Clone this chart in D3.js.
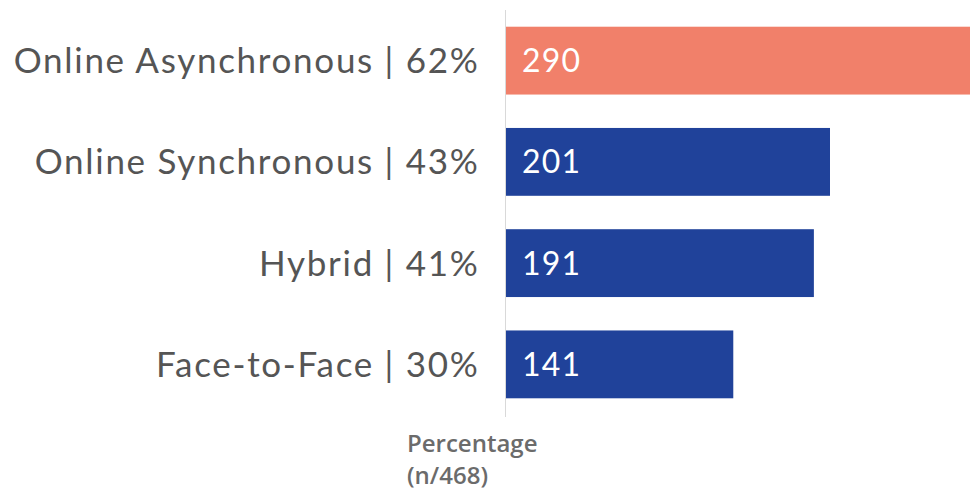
<!DOCTYPE html>
<html><head><meta charset="utf-8">
<script src="https://cdn.jsdelivr.net/npm/d3@7"></script>
<style>body{margin:0;background:#fff}svg{display:block}</style>
</head><body>
<svg id="c" width="970" height="490"></svg>
<script>
const categories = ["Online Asynchronous | 62%", "Online Synchronous | 43%", "Hybrid | 41%", "Face-to-Face | 30%"];
const values = [290, 201, 191, 141];
const colors = ["#F1806A", "#20429A", "#20429A", "#20429A"];
const axisTitle = ["Percentage", "(n/468)"];

const svg = d3.select("#c");
const x0 = 506;
const x = d3.scaleLinear().domain([0, 201]).range([x0, 830]);
const y = d3.scaleBand().domain(categories).range([10, 415]).paddingInner(0.33).paddingOuter(0.165);

svg.append("line").attr("x1", x0 - 0.5).attr("x2", x0 - 0.5).attr("y1", 10).attr("y2", 417)
  .attr("stroke", "#d9d9d9").attr("stroke-width", 1);

svg.selectAll("rect.bar").data(values).join("rect").attr("class", "bar")
  .attr("x", x(0)).attr("y", (d, i) => y(categories[i]))
  .attr("width", d => x(d) - x(0)).attr("height", y.bandwidth())
  .attr("fill", (d, i) => colors[i]);

svg.selectAll("text.cat").data(categories).join("text").attr("class", "cat")
  .attr("x", 479.5).attr("y", d => y(d) + y.bandwidth() / 2)
  .attr("dy", "0.36em").attr("text-anchor", "end")
  .attr("font-family", "Lato, sans-serif").attr("font-size", 35)
  .attr("letter-spacing", 1.7)
  .attr("fill", "#555555").text(d => d);

svg.selectAll("text.val").data(values).join("text").attr("class", "val")
  .attr("x", x(0) + 16).attr("y", (d, i) => y(categories[i]) + y.bandwidth() / 2)
  .attr("dy", "0.36em").attr("font-family", "Lato, sans-serif").attr("font-size", 32)
  .attr("letter-spacing", 1.2)
  .attr("fill", "#ffffff").text(d => d);

svg.append("text").attr("x", 407).attr("font-family", "'Open Sans', sans-serif")
  .attr("font-weight", 600).attr("font-size", 24).attr("fill", "#6b6b6b")
  .selectAll("tspan").data(axisTitle).join("tspan")
  .attr("x", 407).attr("y", (d, i) => 452 + i * 32).text(d => d);
</script>
</body></html>
